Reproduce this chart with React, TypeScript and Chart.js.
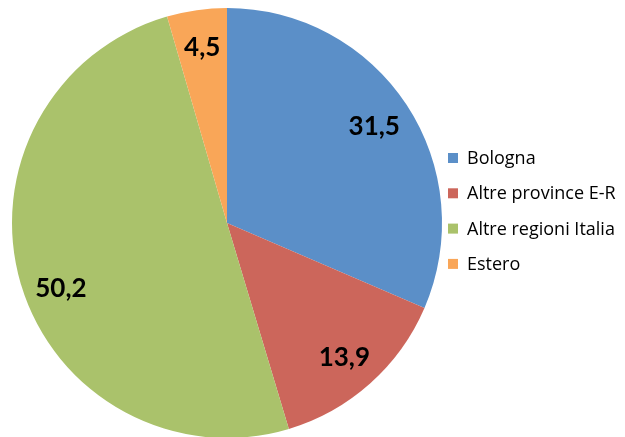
import React, { useEffect, useRef } from "react";
import { Chart, registerables } from "chart.js";

Chart.register(...registerables);

const categories = ["Bologna", "Altre province E-R", "Altre regioni Italia", "Estero"];
const values = [31.5, 13.9, 50.2, 4.5];
const valueLabels = ["31,5", "13,9", "50,2", "4,5"];
const colors = ["#5B8FC8", "#CC665B", "#AAC26B", "#F9A658"];

// small label nudges (px) mimicking the original "best fit" label placement
const LABEL_NUDGE: [number, number][] = [[0, 1], [0, 3], [3, 16], [0, -1]];

const labelPlugin = {
  id: "sliceLabels",
  afterDatasetsDraw(chart: any) {
    const ctx = chart.ctx;
    const meta = chart.getDatasetMeta(0);
    ctx.save();
    ctx.font = "bold 26px Lato";
    ctx.fillStyle = "#000";
    ctx.textAlign = "center";
    ctx.textBaseline = "middle";
    meta.data.forEach((arc: any, i: number) => {
      const p = arc.getProps(["x", "y", "startAngle", "endAngle", "outerRadius"], true);
      const mid = (p.startAngle + p.endAngle) / 2;
      const r = p.outerRadius * 0.82;
      const n = LABEL_NUDGE[i] || [0, 0];
      ctx.fillText(valueLabels[i], p.x + Math.cos(mid) * r + n[0], p.y + Math.sin(mid) * r + n[1]);
    });
    ctx.restore();
  },
};

const legendPlugin = {
  id: "customLegend",
  afterDraw(chart: any) {
    const ctx = chart.ctx;
    ctx.save();
    ctx.font = "18px 'Open Sans'";
    ctx.textBaseline = "middle";
    ctx.textAlign = "left";
    const x0 = 448;
    const y0 = 158;
    const step = 35.3;
    categories.forEach((c, i) => {
      const y = y0 + i * step;
      ctx.fillStyle = colors[i];
      ctx.fillRect(x0, y - 5, 10, 10);
      ctx.fillStyle = "#000";
      ctx.fillText(c, x0 + 19, y + 1);
    });
    ctx.restore();
  },
};

export default function App() {
  const ref = useRef<HTMLCanvasElement>(null);
  useEffect(() => {
    if (!ref.current) return;
    const chart = new Chart(ref.current, {
      type: "pie",
      data: {
        labels: categories,
        datasets: [
          {
            data: values,
            backgroundColor: colors,
            borderWidth: 0,
          },
        ],
      },
      options: {
        animation: false,
        responsive: false,
        maintainAspectRatio: false,
        layout: { padding: { left: 12, top: 8, right: 183, bottom: 12 } },
        plugins: {
          legend: { display: false },
          tooltip: { enabled: false },
        },
      },
      plugins: [labelPlugin, legendPlugin],
    });
    return () => chart.destroy();
  }, []);
  return (
    <div
      style={{
        position: "fixed",
        left: 0,
        top: 0,
        width: 625,
        height: 437,
        overflow: "hidden",
        background: "#fff",
      }}
    >
      <canvas ref={ref} width={625} height={450} style={{ display: "block" }} />
    </div>
  );
}
